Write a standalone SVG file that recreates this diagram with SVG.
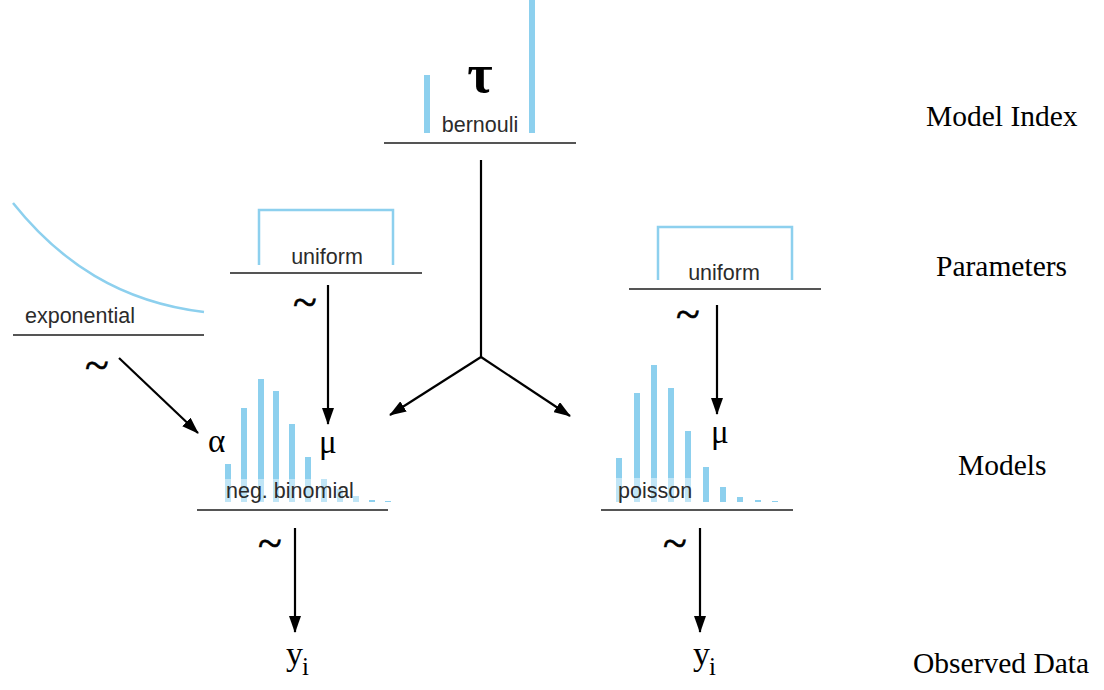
<svg xmlns="http://www.w3.org/2000/svg" width="1104" height="690" viewBox="0 0 1104 690">
<style>
.bar{fill:#8dd0ee}
.dist{fill:none;stroke:#8dd0ee;stroke-width:2.5}
.base{stroke:#555;stroke-width:2}
.lbl{font-family:"Liberation Sans",Arial,sans-serif;font-size:21.5px;fill:#2b2b2b}
.sym{font-family:"Liberation Serif","Times New Roman",serif;fill:#000}
.tier{font-family:"Liberation Serif","Times New Roman",serif;font-size:29.5px;fill:#000}
.tilde{font-family:"Liberation Serif","Times New Roman",serif;font-size:44px;fill:#000;stroke:#000;stroke-width:0.6}
.arr{stroke:#000;stroke-width:2.2;fill:none;marker-end:url(#ah)}
.veil{fill:#fff;opacity:0.45}
</style>
<defs>
<marker id="ah" markerUnits="userSpaceOnUse" markerWidth="17" markerHeight="12" refX="16" refY="6" orient="auto">
<path d="M0,0 L17,6 L0,12 z" fill="#000"/>
</marker>
</defs>
<rect width="1104" height="690" fill="#fff"/>

<g id="bernoulli">
<rect class="bar" x="424" y="75" width="6" height="58"/>
<rect class="bar" x="529" y="0" width="6" height="133"/>
<text class="sym" x="480" y="92" font-size="55" font-weight="bold" text-anchor="middle">τ</text>
<text class="lbl" x="480" y="132" text-anchor="middle">bernouli</text>
<line class="base" x1="384" y1="143" x2="576" y2="143"/>
</g>

<g id="exponential">
<path class="dist" d="M13,203 C60,262 120,302 204,312"/>
<text class="lbl" x="25" y="323">exponential</text>
<line class="base" x1="13" y1="335" x2="204" y2="335"/>
</g>

<g id="uniform-left">
<path class="dist" d="M259,265 V210 H393 V265"/>
<text class="lbl" x="327" y="264" text-anchor="middle">uniform</text>
<line class="base" x1="230" y1="273" x2="422" y2="273"/>
</g>

<g id="uniform-right">
<path class="dist" d="M658,280 V227 H792 V280"/>
<text class="lbl" x="724" y="280" text-anchor="middle">uniform</text>
<line class="base" x1="629" y1="289" x2="821" y2="289"/>
</g>

<g id="neg-binomial">
<rect class="bar" x="225" y="464" width="6" height="38"/>
<rect class="bar" x="241" y="408" width="6" height="94"/>
<rect class="bar" x="258" y="379" width="6" height="123"/>
<rect class="bar" x="273" y="391" width="6" height="111"/>
<rect class="bar" x="289" y="424" width="6" height="78"/>
<rect class="bar" x="305" y="457" width="6" height="45"/>
<rect class="bar" x="321" y="479" width="6" height="23"/>
<rect class="bar" x="337" y="489" width="6" height="13"/>
<rect class="bar" x="353" y="496" width="6" height="6"/>
<rect class="bar" x="369" y="500" width="6" height="2"/>
<rect class="bar" x="385" y="501" width="6" height="1"/>
<rect class="veil" x="222" y="479" width="140" height="24"/>
<text class="lbl" x="226" y="498">neg. binomial</text>
<text class="sym" x="208" y="452" font-size="33">α</text>
<text class="sym" x="319" y="453" font-size="33">μ</text>
<line class="base" x1="197" y1="510" x2="388" y2="510"/>
</g>

<g id="poisson">
<rect class="bar" x="616" y="458" width="6" height="44"/>
<rect class="bar" x="634" y="393" width="6" height="109"/>
<rect class="bar" x="651" y="365" width="6" height="137"/>
<rect class="bar" x="668" y="388" width="6" height="114"/>
<rect class="bar" x="685" y="431" width="6" height="71"/>
<rect class="bar" x="703" y="467" width="6" height="35"/>
<rect class="bar" x="720" y="487" width="6" height="15"/>
<rect class="bar" x="737" y="497" width="6" height="5"/>
<rect class="bar" x="755" y="500" width="6" height="2"/>
<rect class="bar" x="772" y="501" width="6" height="1"/>
<rect class="veil" x="615" y="478" width="83" height="25"/>
<text class="lbl" x="618" y="498">poisson</text>
<text class="sym" x="711" y="443" font-size="33">μ</text>
<line class="base" x1="601" y1="510" x2="793" y2="510"/>
</g>

<g id="data-left">
<text class="sym" x="286" y="665" font-size="34">y</text>
<text class="sym" x="302" y="675" font-size="25">i</text>
</g>
<g id="data-right">
<text class="sym" x="693" y="665" font-size="34">y</text>
<text class="sym" x="709" y="675" font-size="25">i</text>
</g>

<g id="connectors">
<line class="arr" x1="481" y1="160" x2="481" y2="357" style="marker-end:none"/>
<line class="arr" x1="481" y1="357" x2="390" y2="415"/>
<line class="arr" x1="481" y1="357" x2="570" y2="416"/>
<line class="arr" x1="119" y1="358" x2="198" y2="433"/>
<line class="arr" x1="328" y1="285" x2="328" y2="424"/>
<line class="arr" x1="717" y1="305" x2="717" y2="414"/>
<line class="arr" x1="295" y1="528" x2="295" y2="632"/>
<line class="arr" x1="700" y1="528" x2="700" y2="632"/>
<text class="tilde" x="97" y="380" text-anchor="middle">~</text>
<text class="tilde" x="305" y="317" text-anchor="middle">~</text>
<text class="tilde" x="688" y="329" text-anchor="middle">~</text>
<text class="tilde" x="270" y="558" text-anchor="middle">~</text>
<text class="tilde" x="675" y="558" text-anchor="middle">~</text>
</g>

<g id="tiers">
<text class="tier" x="926" y="126">Model Index</text>
<text class="tier" x="936" y="276">Parameters</text>
<text class="tier" x="958" y="475">Models</text>
<text class="tier" x="913" y="673">Observed Data</text>
</g>
</svg>
